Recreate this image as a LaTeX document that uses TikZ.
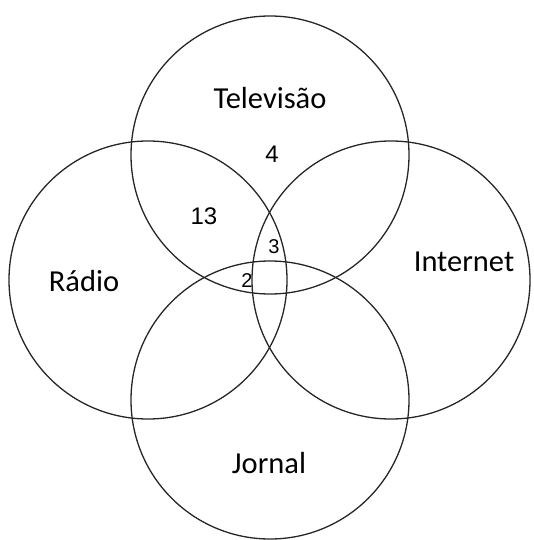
\documentclass[tikz,border=0pt]{standalone}
\usepackage{fontspec}
\setmainfont{Carlito}
\newfontfamily\numfont{Liberation Sans}
\begin{document}
\begin{tikzpicture}[x=1pt,y=-1pt,
  setcirc/.style={draw=black!85,line width=1.3pt,circle,minimum size=278pt,inner sep=0pt},
  setlabel/.style={font=\fontsize{30.5}{36}\selectfont,inner sep=0pt},
  biglabel/.style={font=\numfont\fontsize{24}{28}\selectfont,inner sep=0pt},
  smalllabel/.style={font=\numfont\fontsize{20}{24}\selectfont,inner sep=0pt}]
\useasboundingbox (0,0) rectangle (533,540);
\node[setcirc] (tv) at (270,155) {};
\node[setcirc] (radio) at (148,280) {};
\node[setcirc] (inet) at (391,280) {};
\node[setcirc] (jornal) at (270,400) {};
\node[setlabel] (ltv) at (270,98) {Televisão};
\node[setlabel] (lradio) at (84,281) {Rádio};
\node[setlabel] (linet) at (464,262) {Internet};
\node[setlabel] (ljornal) at (269,463) {Jornal};
\node[biglabel] (n4) at (272,154) {4};
\node[biglabel] (n13) at (204,216) {13};
\node[smalllabel] (n3) at (274,247) {3};
\node[smalllabel] (n2) at (247,281) {2};
\end{tikzpicture}
\end{document}
